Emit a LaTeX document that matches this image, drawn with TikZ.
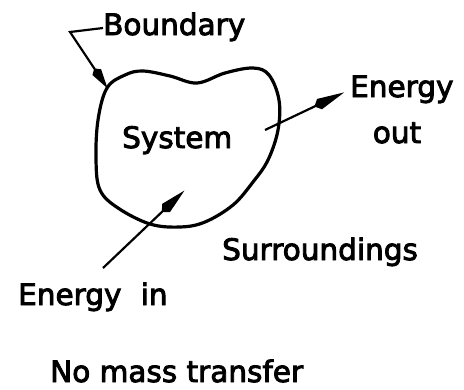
\documentclass[tikz,border=0pt]{standalone}
\usepackage{fontspec}
\newfontfamily\lblfont{DejaVu Sans}[FakeBold=3]
\usetikzlibrary{arrows.meta}
\begin{document}
\begin{tikzpicture}[x=1pt,y=-1pt,
  lbl/.style={inner sep=0pt,font=\lblfont\fontsize{29.5}{34}\selectfont},
  conn/.style={line width=2.2pt,-{Stealth[length=#1,width=10pt,inset=-6pt]}},
  conn/.default=24pt]
\useasboundingbox (0,0) rectangle (464,389);
% system boundary
\draw[line width=3.2pt] plot[smooth cycle,tension=0.6] coordinates {
 (107,88) (125,75) (143,71) (170,76) (197,83) (225,73) (253,68) (269,75)
 (279,100) (278,130) (268,160) (253,182) (233,205) (205,222) (180,227)
 (150,224) (118,208) (100,190) (96,160) (98,120)};
\coordinate (btip) at (108,89);
\coordinate (bcorner) at (70,32);
\coordinate (outstart) at (265,130);
\coordinate (outtip) at (345,92);
\coordinate (instart) at (103,268);
\coordinate (intip) at (185,190);
% labels
\node[lbl,anchor=base west] (boundary) at (103,35) {Boundary};
\node[lbl,anchor=base west] (energy) at (350,97) {Energy};
\node[lbl,anchor=base] (out) at (397,143) {out};
\node[lbl,anchor=base west] (system) at (122,148) {System};
\node[lbl,anchor=base west] (surr) at (222,260) {Surroundings};
\node[lbl,anchor=base west] (ein) at (18,305) {Energy\,\, in};
\node[lbl,anchor=base west] (nomass) at (50,382) {No mass transfer};
% connectors
\draw[line width=2.2pt,-{Stealth[length=20pt,width=9pt,inset=-5pt]}] (boundary.west |- 0,28) -- (bcorner) -- (btip);
\draw[conn=28pt] (outstart) -- (outtip);
\draw[conn=26pt] (instart) -- (intip);
\end{tikzpicture}
\end{document}
